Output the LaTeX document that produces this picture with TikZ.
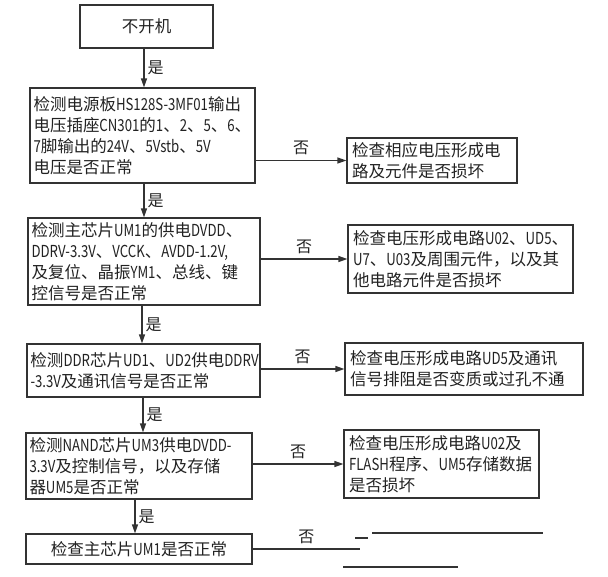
\documentclass[tikz,border=0pt]{standalone}
\usepackage{fontspec}
\setmainfont{Noto Sans CJK SC}
\newfontfamily\latf{Noto Sans CJK SC}[FakeStretch=0.8]
\newcommand\ltn[1]{{\latf #1}}
\usetikzlibrary{arrows.meta}
\definecolor{ink}{HTML}{222222}
\definecolor{edge}{HTML}{333333}
\begin{document}
\begin{tikzpicture}[x=1pt,y=-1pt,
  box/.style={draw=edge, line width=1.2pt, rectangle, inner xsep=3.5pt, inner ysep=2pt,
    align=left, text=ink, font=\fontsize{16.5}{21}\selectfont},
  rbox/.style={box, inner xsep=5pt},
  conn/.style={draw=edge, line width=1.2pt},
  arr/.style={conn, -{Triangle[length=9pt,width=6pt]}},
  yes/.style={right, midway, inner sep=3pt, text=ink, font=\fontsize{16}{16}\selectfont},
  no/.style={above=2pt, midway, inner sep=3pt, text=ink, font=\fontsize{16}{16}\selectfont}]
\useasboundingbox (0,0) rectangle (608,576);
\fill[white] (0,0) rectangle (608,576);

% main column
\node[box, align=center, text width=126pt, minimum height=43pt] (B1) at (146.5,26.5) {不开机};
\node[box, text width=218pt, minimum height=95pt] (B2) at (142.5,135.5)
  {检测电源板\ltn{HS128S-3MF01}输出\\电压插座\ltn{CN301}的\ltn{1}、\ltn{2}、\ltn{5}、\ltn{6}、\\\ltn{7}脚输出的\ltn{24V}、\ltn{5Vstb}、\ltn{5V}\\电压是否正常};
\node[box, text width=225pt, minimum height=87pt] (B3) at (144,261.5)
  {检测主芯片\ltn{UM1}的供电\ltn{DVDD}、\\\ltn{DDRV-3.3V}、\ltn{VCCK}、\ltn{AVDD-1.2V,}\\及复位、晶振\ltn{YM1}、总线、键\\控信号是否正常};
\node[box, text width=226pt, minimum height=53pt] (B4) at (143.5,370.5)
  {检测\ltn{DDR}芯片\ltn{UD1}、\ltn{UD2}供电\ltn{DDRV}\\\ltn{-3.3V}及通讯信号是否正常};
\node[box, text width=219pt, minimum height=66pt] (B5) at (139,466)
  {检测\ltn{NAND}芯片\ltn{UM3}供电\ltn{DVDD-}\\\ltn{3.3V}及控制信号，以及存储\\器\ltn{UM5}是否正常};
\node[box, align=center, text width=219pt, minimum height=30pt] (B6) at (139,549)
  {检查主芯片\ltn{UM1}是否正常};

% right column
\node[rbox, text width=160pt, minimum height=45pt] (R2) at (432,160.5)
  {检查相应电压形成电\\路及元件是否损坏};
\node[rbox, text width=215pt, minimum height=68pt] (R3) at (460.5,259)
  {检查电压形成电路\ltn{U02}、\ltn{UD5}、\\\ltn{U7}、\ltn{U03}及周围元件，以及其\\他电路元件是否损坏};
\node[rbox, text width=228pt, minimum height=52pt] (R4) at (464,369)
  {检查电压形成电路\ltn{UD5}及通讯\\信号排阻是否变质或过孔不通};
\node[rbox, text width=185pt, minimum height=68pt] (R5) at (441.5,464)
  {检查电压形成电路\ltn{U02}及\\\ltn{FLASH}程序、\ltn{UM5}存储数据\\是否损坏};

% vertical "yes" arrows
\coordinate (v1) at (144,0);
\coordinate (v2) at (144,0);
\coordinate (v3) at (142,0);
\coordinate (v4) at (143,0);
\coordinate (v5) at (135,0);
\draw[arr] (B1.south -| v1) -- node[yes]{是} (B2.north -| v1);
\draw[arr] (B2.south -| v2) -- node[yes]{是} (B3.north -| v2);
\draw[arr] (B3.south -| v3) -- node[yes]{是} (B4.north -| v3);
\draw[arr] (B4.south -| v4) -- node[yes]{是} (B5.north -| v4);
\draw[arr] (B5.south -| v5) -- node[yes]{是} (B6.north -| v5);

% horizontal "no" arrows
\draw[arr] (B2.east |- R2.west) -- node[no]{否} (R2.west);
\draw[arr] (B3.east |- R3.west) -- node[no]{否} (R3.west);
\draw[arr] (B4.east |- R4.west) -- node[no]{否} (R4.west);
\draw[arr] (B5.east |- R5.west) -- node[no]{否} (R5.west);
\coordinate (e6) at (360,549);
\draw[conn] (B6.east) -- node[no]{否} (e6);

% cut-off box fragments
\draw[conn] (355,538) -- (368,538);
\draw[conn] (372,533) -- (543,533);
\draw[conn] (343,567) -- (458,567);
\end{tikzpicture}
\end{document}
